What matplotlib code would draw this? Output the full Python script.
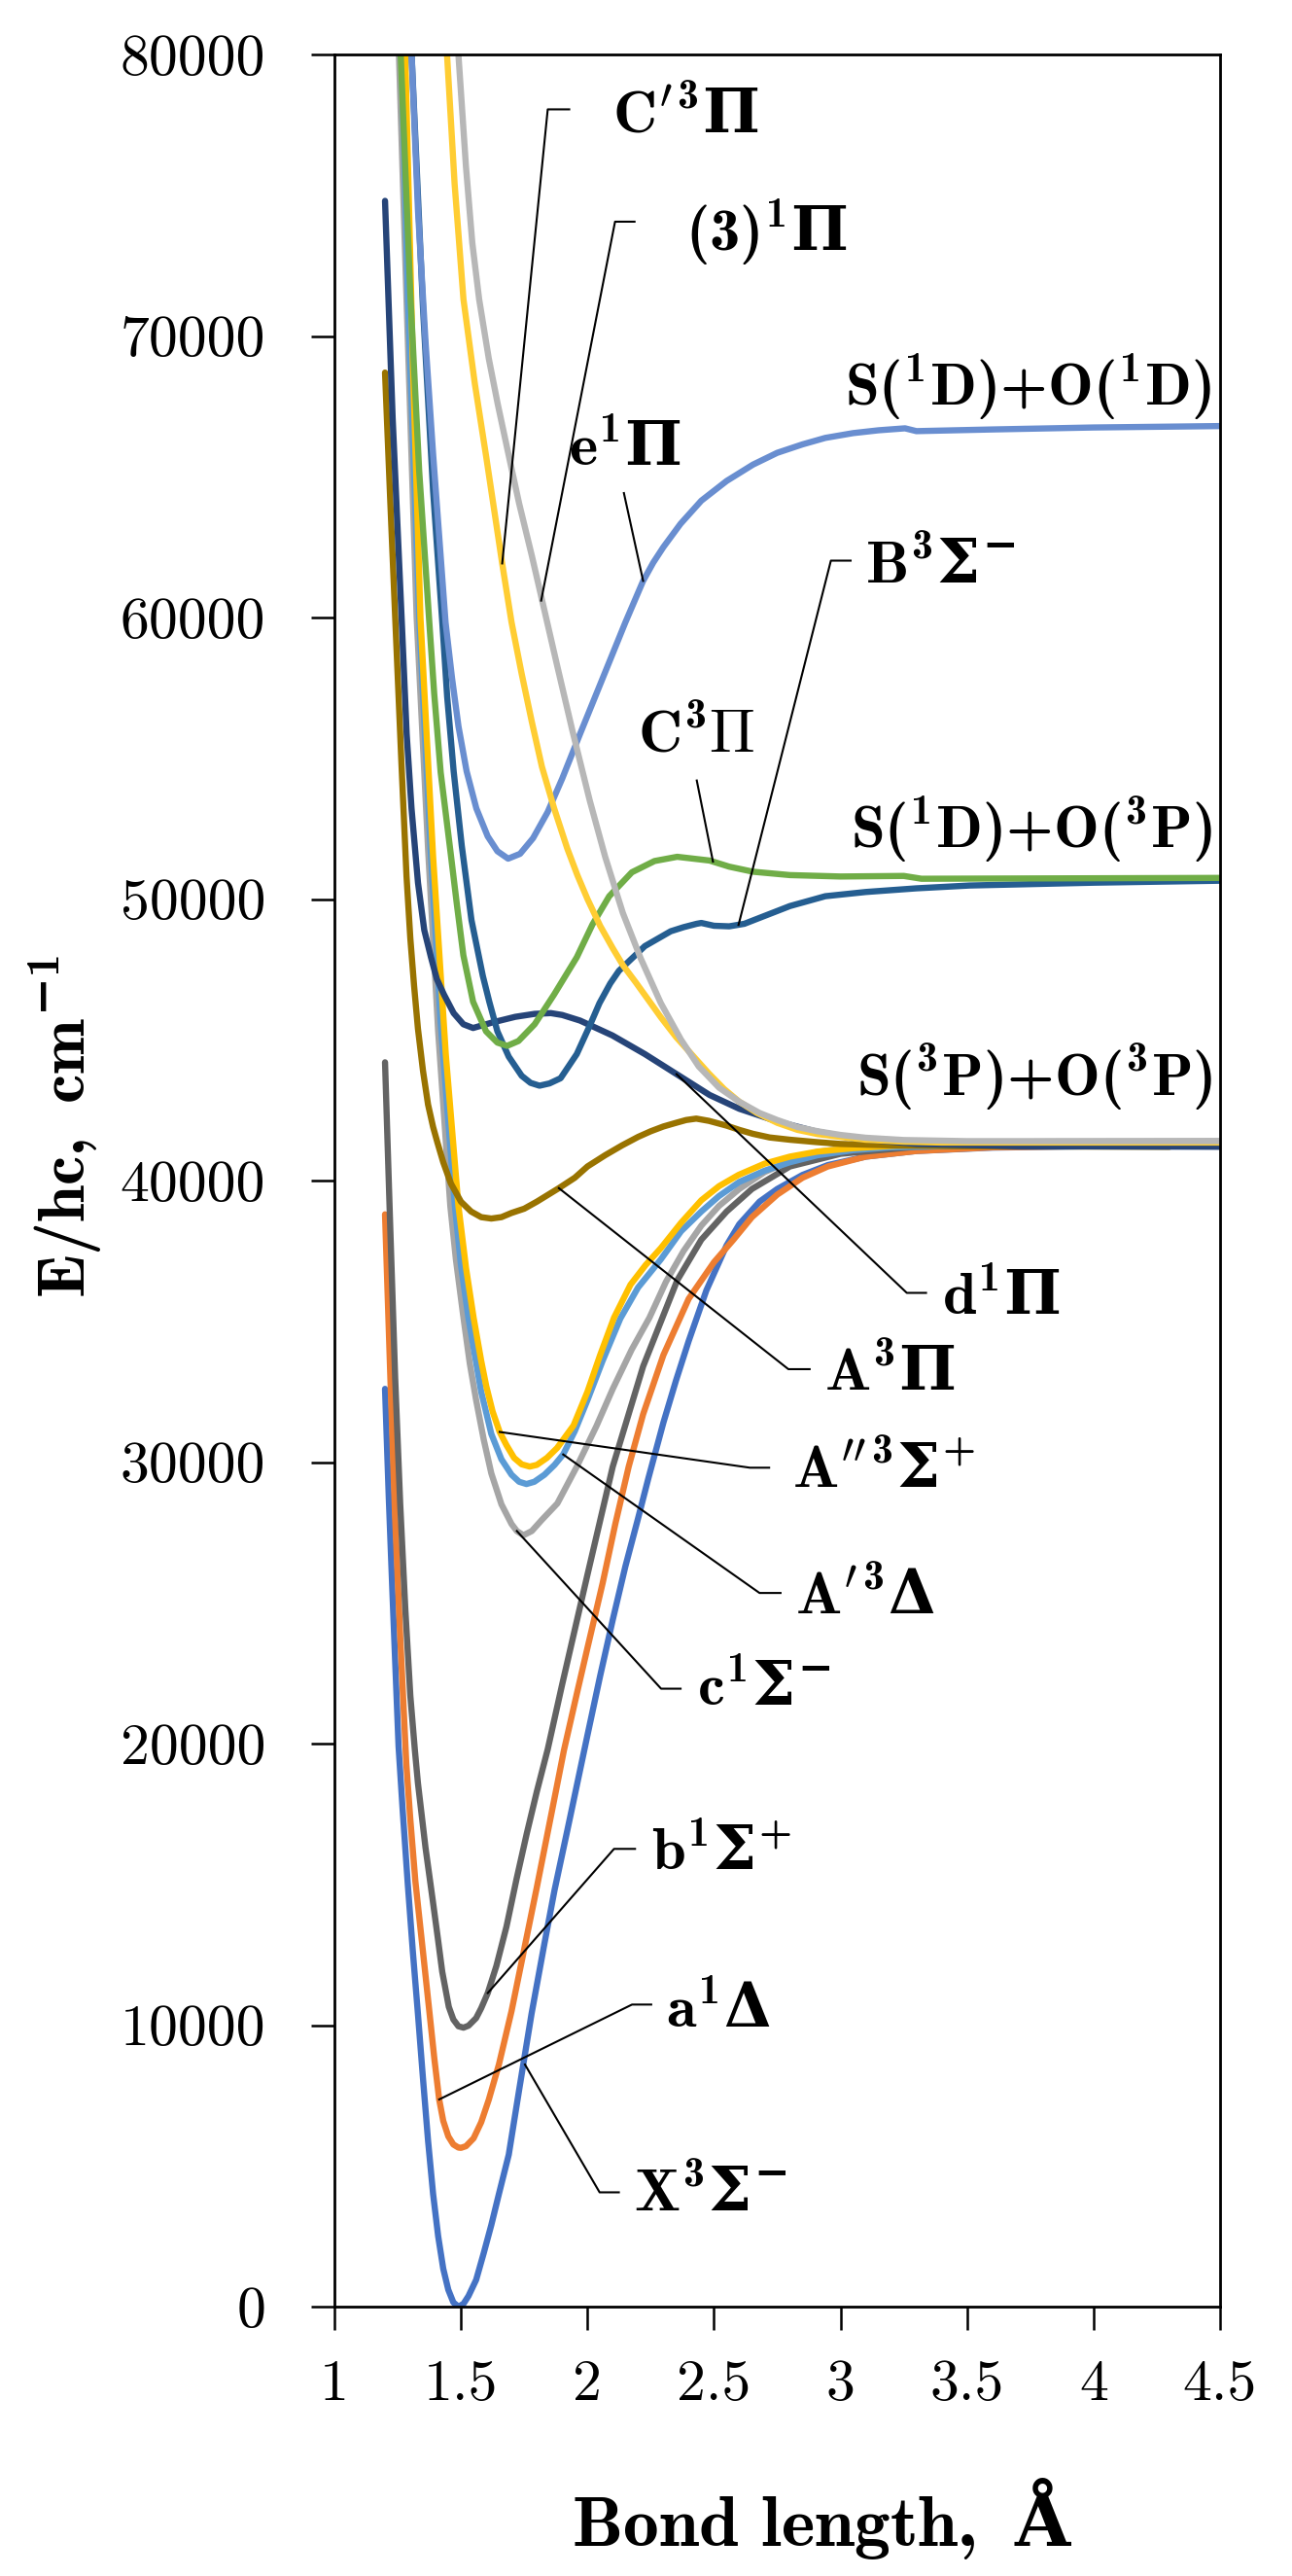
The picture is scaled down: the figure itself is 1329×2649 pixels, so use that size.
import matplotlib
matplotlib.use("Agg")
import matplotlib.pyplot as plt

plt.rcParams['mathtext.fontset'] = 'custom'
plt.rcParams['mathtext.rm'] = 'cmb10'
plt.rcParams['mathtext.bf'] = 'DejaVu Serif:bold'
plt.rcParams['mathtext.default'] = 'rm'
plt.rcParams['mathtext.fallback'] = 'cm'
plt.rcParams['axes.unicode_minus'] = False

# ---- potential energy curves (bond length in A, energy in cm-1) ----
x_X = [1.20, 1.215, 1.23, 1.2535, 1.27, 1.29, 1.31, 1.33, 1.35, 1.37, 1.39, 1.41, 1.43, 1.45, 1.47, 1.49,
       1.51, 1.53, 1.56, 1.59, 1.62, 1.65, 1.689, 1.73, 1.779, 1.83, 1.87, 1.92, 1.96, 2.00, 2.05, 2.10,
       2.15, 2.20, 2.24, 2.30, 2.35, 2.40, 2.47, 2.55, 2.60, 2.68, 2.75, 2.85, 2.95, 3.10, 3.30, 3.60, 4.00, 4.50]
y_X = [32600, 28700, 25200, 19900, 17600, 15000, 12600, 10400, 8100, 5900, 4000, 2500, 1350, 600, 150, 0,
       100, 380, 950, 1900, 2900, 4000, 5400, 7700, 10400, 12900, 14800, 16900, 18600, 20300, 22400, 24400,
       26300, 28000, 29400, 31400, 32900, 34300, 36100, 37700, 38450, 39250, 39700, 40200, 40550, 40850, 41050, 41170, 41220, 41250]

x_a = [1.20, 1.22, 1.24, 1.26, 1.284, 1.30, 1.32, 1.35, 1.375, 1.395, 1.414, 1.43, 1.45, 1.47, 1.49, 1.50,
       1.52, 1.55, 1.58, 1.61, 1.65, 1.70, 1.75, 1.80, 1.875, 1.907, 1.96, 2.00, 2.06, 2.11, 2.163, 2.22,
       2.30, 2.40, 2.50, 2.577, 2.65, 2.75, 2.85, 2.95, 3.10, 3.30, 3.60, 4.00, 4.50]
y_a = [38800, 33300, 28000, 23800, 19300, 17300, 15100, 12600, 10500, 8800, 7360, 6600, 6050, 5760, 5650, 5640,
       5700, 5980, 6550, 7350, 8600, 10500, 12700, 14900, 18300, 19760, 21850, 23400, 25700, 27800, 29840, 31700,
       33800, 35800, 37100, 37900, 38700, 39500, 40100, 40500, 40850, 41050, 41180, 41230, 41260]

x_b = [1.20, 1.22, 1.24, 1.26, 1.28, 1.30, 1.318, 1.33, 1.36, 1.388, 1.41, 1.426, 1.452, 1.47, 1.49, 1.51,
       1.53, 1.56, 1.58, 1.606, 1.64, 1.68, 1.72, 1.76, 1.80, 1.843, 1.90, 2.00, 2.10, 2.22, 2.355, 2.45,
       2.55, 2.65, 2.80, 3.00, 3.30, 3.80, 4.50]
y_b = [44200, 38500, 33000, 28500, 24800, 21700, 19760, 18600, 16300, 14470, 13000, 11900, 10650, 10200, 9960, 9910,
       9980, 10250, 10600, 11140, 12100, 13500, 15200, 16800, 18300, 19800, 22100, 26000, 29840, 33400, 36460, 37900,
       38900, 39700, 40500, 40950, 41200, 41300, 41350]

x_c = [1.235, 1.255, 1.285, 1.325, 1.37, 1.41, 1.458, 1.48, 1.51, 1.535, 1.56, 1.59, 1.62, 1.66, 1.70, 1.721,
       1.747, 1.78, 1.82, 1.881, 1.958, 2.035, 2.10, 2.175, 2.245, 2.31, 2.38, 2.45, 2.52, 2.60, 2.70, 2.80,
       2.90, 3.05, 3.30, 3.80, 4.50]
y_c = [88000, 80000, 71300, 60000, 51800, 45300, 39100, 37200, 35130, 33500, 32200, 30800, 29600, 28500, 27800, 27550,
       27400, 27550, 27950, 28530, 29840, 31270, 32600, 34000, 35130, 36400, 37500, 38400, 39100, 39700, 40300, 40700,
       41000, 41200, 41320, 41380, 41400]

x_Ap = [1.24, 1.265, 1.29, 1.335, 1.38, 1.42, 1.476, 1.50, 1.53, 1.58, 1.62, 1.66, 1.70, 1.73, 1.759, 1.79,
        1.83, 1.87, 1.904, 1.95, 2.00, 2.06, 2.13, 2.20, 2.29, 2.37, 2.45, 2.52, 2.60, 2.70, 2.80, 2.91,
        3.05, 3.20, 3.60, 4.50]
y_Ap = [90000, 80000, 71500, 60000, 51800, 45600, 39100, 37000, 35100, 32500, 31000, 30100, 29550, 29300, 29220, 29300,
        29550, 29900, 30270, 31100, 32200, 33600, 35100, 36200, 37200, 38200, 38900, 39450, 39950, 40350, 40650, 40900,
        41080, 41180, 41260, 41300]

x_App = [1.25, 1.28, 1.31, 1.34, 1.39, 1.44, 1.49, 1.52, 1.55, 1.58, 1.60, 1.625, 1.653, 1.68, 1.71, 1.74,
         1.772, 1.80, 1.84, 1.88, 1.945, 2.00, 2.05, 2.105, 2.17, 2.23, 2.29, 2.37, 2.45, 2.52, 2.597, 2.70,
         2.80, 2.91, 3.05, 3.22, 3.60, 4.50]
y_App = [95000, 80000, 69000, 60000, 51500, 44500, 39100, 36900, 35130, 33600, 32700, 31800, 31070, 30600, 30150, 29920,
         29840, 29900, 30150, 30500, 31300, 32500, 33800, 35130, 36300, 37000, 37600, 38500, 39300, 39800, 40200, 40600,
         40850, 41030, 41150, 41240, 41280, 41300]

x_A = [1.20, 1.22, 1.241, 1.265, 1.285, 1.30, 1.315, 1.33, 1.35, 1.37, 1.39, 1.407, 1.43, 1.46, 1.50, 1.54,
       1.58, 1.62, 1.66, 1.70, 1.75, 1.80, 1.887, 1.95, 2.00, 2.07, 2.137, 2.20, 2.25, 2.30, 2.35, 2.39,
       2.43, 2.48, 2.55, 2.60, 2.654, 2.72, 2.80, 2.90, 3.00, 3.20, 3.50, 4.30]
y_A = [68700, 64300, 59830, 54800, 50800, 48600, 46900, 45400, 43900, 42700, 41900, 41350, 40650, 39900, 39250, 38900,
       38700, 38650, 38700, 38850, 39000, 39250, 39730, 40100, 40500, 40900, 41250, 41550, 41750, 41920, 42050, 42150,
       42200, 42120, 41950, 41800, 41660, 41530, 41450, 41370, 41300, 41250, 41220, 41200]

x_d = [1.20, 1.23, 1.2663, 1.2855, 1.3047, 1.3303, 1.355, 1.3816, 1.405, 1.4328, 1.4712, 1.5096, 1.548, 1.6249, 1.7145,
       1.7913, 1.8553, 1.9001, 1.9706, 2.0986, 2.2267, 2.3547, 2.4828, 2.60, 2.75, 2.90, 3.05, 3.30, 3.70, 4.50]
y_d = [74800, 67100, 59827, 55862, 53218, 50574, 48900, 47930, 47150, 46608, 45947, 45551, 45419, 45617, 45815,
       45921, 45947, 45881, 45683, 45154, 44493, 43766, 43039, 42550, 42100, 41750, 41500, 41300, 41220, 41200]

x_B = [1.285, 1.305, 1.35, 1.39, 1.4264, 1.4456, 1.4712, 1.5032, 1.5416, 1.5865, 1.6121, 1.6441, 1.6889, 1.7401,
       1.775, 1.8105, 1.85, 1.8938, 1.9578, 2.009, 2.0474, 2.09, 2.1243, 2.2267, 2.3291, 2.38, 2.4316, 2.45,
       2.50, 2.56, 2.62, 2.70, 2.80, 2.94, 3.10, 3.30, 3.51, 4.00, 4.50]
y_B = [88000, 80000, 71000, 64500, 59827, 57183, 54540, 51896, 49252, 47269, 46350, 45300, 44400, 43720,
       43470, 43369, 43450, 43634, 44493, 45500, 46300, 47000, 47450, 48326, 48855, 49000, 49120, 49150,
       49050, 49030, 49120, 49400, 49750, 50100, 50250, 50380, 50480, 50580, 50650]

x_C = [1.24, 1.262, 1.30, 1.335, 1.375, 1.3943, 1.4199, 1.4584, 1.484, 1.5096, 1.548, 1.5992, 1.644, 1.6825,
       1.7273, 1.7913, 1.8681, 1.9578, 2.02, 2.086, 2.1755, 2.2651, 2.3547, 2.4828, 2.56, 2.654, 2.80, 3.00,
       3.25, 3.32, 4.50]
y_C = [88000, 80000, 71500, 65200, 59827, 57300, 54500, 51700, 49800, 48000, 46350, 45300, 44900, 44784,
       44956, 45551, 46608, 47930, 49100, 50100, 50950, 51350, 51500, 51367, 51150, 50970, 50850, 50800,
       50820, 50720, 50750]

x_e = [1.285, 1.305, 1.33, 1.36, 1.39, 1.4392, 1.4648, 1.4904, 1.5224, 1.5609, 1.6057, 1.6441, 1.6864, 1.7337,
       1.7849, 1.8425, 1.9001, 1.9706, 2.0602, 2.1498, 2.22, 2.26, 2.30, 2.368, 2.45, 2.55, 2.654, 2.75, 2.85,
       2.94, 3.05, 3.15, 3.255, 3.30, 3.40, 3.60, 4.00, 4.50]
y_e = [88000, 80000, 74500, 69800, 65800, 59827, 57844, 56126, 54540, 53218, 52227, 51698, 51434, 51606,
       52160, 53086, 54276, 55862, 57844, 59827, 61300, 61950, 62500, 63330, 64150, 64850, 65430, 65850, 66150,
       66380, 66550, 66650, 66720, 66620, 66640, 66680, 66750, 66800]

x_Cp = [1.42, 1.445, 1.475, 1.51, 1.555, 1.60, 1.663, 1.70, 1.74, 1.78, 1.82, 1.868, 1.92, 1.96, 2.00, 2.05,
        2.10, 2.14, 2.19, 2.226, 2.29, 2.35, 2.42, 2.48, 2.54, 2.60, 2.67, 2.75, 2.83, 2.91, 3.00, 3.10,
        3.25, 3.40, 4.50]
y_Cp = [85500, 80000, 75400, 71300, 68300, 65700, 61920, 59830, 58000, 56300, 54700, 53230, 51800, 50850, 50000, 49050,
        48250, 47650, 47050, 46600, 45800, 45100, 44400, 43800, 43250, 42800, 42400, 42050, 41800, 41650, 41550, 41450,
        41380, 41350, 41350]

x_3P = [1.47, 1.49, 1.52, 1.545, 1.572, 1.61, 1.645, 1.683, 1.73, 1.78, 1.83, 1.88, 1.94, 2.009, 2.07, 2.14,
        2.21, 2.29, 2.37, 2.44, 2.52, 2.60, 2.68, 2.75, 2.83, 2.91, 3.00, 3.10, 3.25, 3.50, 4.50]
y_3P = [84500, 80000, 76000, 73300, 71300, 69200, 67600, 66000, 64050, 62200, 60250, 58300, 56000, 53500, 51500, 49500,
        47900, 46300, 45000, 44050, 43300, 42800, 42400, 42150, 41900, 41750, 41620, 41520, 41440, 41400, 41400]

curves = [
    (x_X, y_X, '#4472C4'),
    (x_a, y_a, '#ED7D31'),
    (x_b, y_b, '#636363'),
    (x_c, y_c, '#A5A5A5'),
    (x_Ap, y_Ap, '#5B9BD5'),
    (x_App, y_App, '#FFC000'),
    (x_A, y_A, '#997300'),
    (x_d, y_d, '#264478'),
    (x_B, y_B, '#255E91'),
    (x_C, y_C, '#70AD47'),
    (x_e, y_e, '#698ED0'),
    (x_Cp, y_Cp, '#FFCD33'),
    (x_3P, y_3P, '#B7B7B7'),
]

# state labels: text, leader line (x list, y list), text anchor
labels = [
    (r"$\mathrm{C}'^{\mathrm{3}}\mathbf{\Pi}$", [1.663, 1.843, 1.928], [61920, 78050, 78050], (2.10, 77800), 'left'),
    (r"$\mathrm{(3)}^{\mathrm{1}}\mathbf{\Pi}$", [1.817, 2.109, 2.186], [60600, 74060, 74060], (2.387, 73700), 'left'),
    (r"$\mathrm{e}^{\mathrm{1}}\mathbf{\Pi}$", [2.22, 2.144], [61300, 64420], (1.926, 66000), 'left'),
    (r"$\mathrm{S(^{1}D){+}O(^{1}D)}$", None, None, (4.465, 68200), 'right'),
    (r"$\mathrm{B}^{\mathrm{3}}\mathbf{\Sigma}^{\mathbf{-}}$", [2.597, 2.962, 3.04], [49080, 62020, 62020], (3.098, 61800), 'left'),
    (r"$\mathrm{C}^{\mathrm{3}}\Pi$", [2.496, 2.432], [51330, 54210], (2.20, 55800), 'left'),
    (r"$\mathrm{S(^{1}D){+}O(^{3}P)}$", None, None, (4.47, 52470), 'right'),
    (r"$\mathrm{S(^{3}P){+}O(^{3}P)}$", None, None, (4.47, 43680), 'right'),
    (r"$\mathrm{d}^{\mathrm{1}}\mathbf{\Pi}$", [2.352, 3.262, 3.338], [43780, 36010, 36010], (3.40, 35820), 'left'),
    (r"$\mathrm{A}^{\mathrm{3}}\mathbf{\Pi}$", [1.887, 2.794, 2.878], [39730, 33300, 33300], (2.937, 33120), 'left'),
    (r"$\mathrm{A}''^{\mathrm{3}}\mathbf{\Sigma}^{\mathrm{+}}$", [1.653, 2.642, 2.718], [31070, 29800, 29800], (2.81, 29670), 'left'),
    (r"$\mathrm{A}'^{\mathrm{3}}\mathbf{\Delta}$", [1.904, 2.68, 2.763], [30270, 25350, 25350], (2.82, 25180), 'left'),
    (r"$\mathrm{c}^{\mathrm{1}}\mathbf{\Sigma}^{\mathbf{-}}$", [1.721, 2.291, 2.368], [27550, 21950, 21950], (2.432, 21950), 'left'),
    (r"$\mathrm{b}^{\mathrm{1}}\mathbf{\Sigma}^{\mathrm{+}}$", [1.606, 2.105, 2.188], [11140, 16260, 16260], (2.252, 16100), 'left'),
    (r"$\mathrm{a}^{\mathrm{1}}\mathbf{\Delta}$", [1.414, 2.176, 2.252], [7360, 10730, 10730], (2.31, 10500), 'left'),
    (r"$\mathrm{X}^{\mathrm{3}}\mathbf{\Sigma}^{\mathbf{-}}$", [1.753, 2.048, 2.124], [8600, 4060, 4060], (2.182, 3970), 'left'),
]

x_ticks = [1, 1.5, 2, 2.5, 3, 3.5, 4, 4.5]
x_tick_labels = ['1', '1.5', '2', '2.5', '3', '3.5', '4', '4.5']
y_ticks = [0, 10000, 20000, 30000, 40000, 50000, 60000, 70000, 80000]
y_tick_labels = ['0', '10000', '20000', '30000', '40000', '50000', '60000', '70000', '80000']

fig = plt.figure(figsize=(13.29, 26.49), dpi=100)
ax = fig.add_axes([344 / 1329, 1 - 2372 / 2649, 911 / 1329, 2316 / 2649])

for xs, ys, col in curves:
    ax.plot(xs, ys, color=col, lw=4.6, solid_capstyle='round', solid_joinstyle='round')

for txt, lx, ly, (tx, ty), ha in labels:
    if lx is not None:
        ax.plot(lx, ly, color='black', lw=1.5)
    ax.text(tx, ty, txt, fontsize=45, ha=ha, va='center')

ax.set_xlim(1, 4.5)
ax.set_ylim(0, 80000)
ax.set_xticks(x_ticks, labels=x_tick_labels)
ax.set_yticks(y_ticks, labels=y_tick_labels)
for lab in ax.get_xticklabels() + ax.get_yticklabels():
    lab.set_fontfamily('cmr10')
    lab.set_fontsize(43)
ax.tick_params(axis='x', direction='out', length=17, width=1.8, pad=22)
ax.tick_params(axis='y', direction='out', length=17, width=1.8, pad=34)
for sp in ax.spines.values():
    sp.set_linewidth(2)

ax.set_xlabel(r"$\mathrm{Bond\ length,\ }\mathbf{Å}$", fontsize=53)
ax.xaxis.set_label_coords(0.551, -0.094)
ax.xaxis.label.set_verticalalignment('center')
ax.set_ylabel(r"$\mathrm{E/hc,\ cm}^{\mathbf{-}\mathrm{1}}$", fontsize=49)
ax.yaxis.set_label_coords(-0.303, 0.524)
ax.yaxis.label.set_verticalalignment('center')

fig.savefig("out.png", dpi=100)
